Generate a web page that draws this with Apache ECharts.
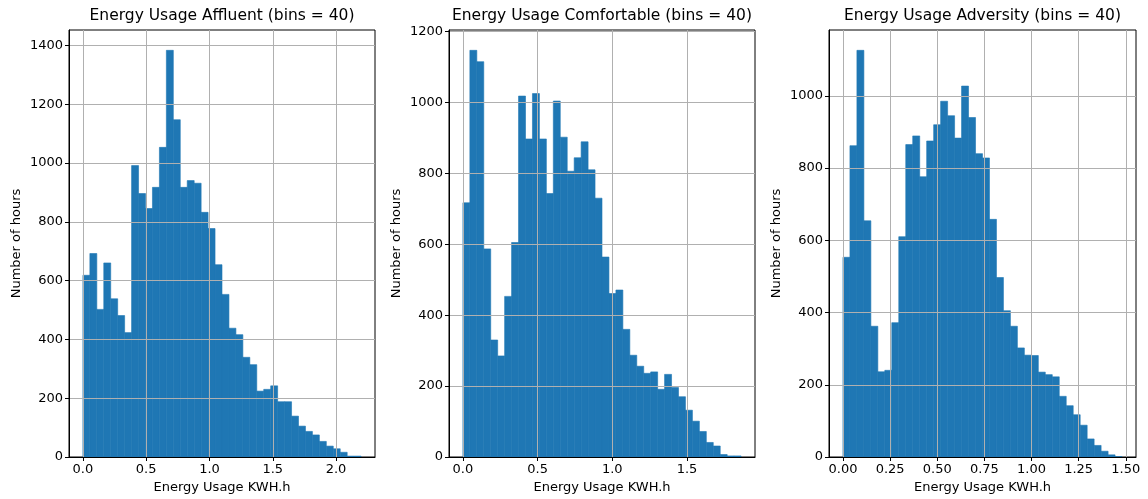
<!DOCTYPE html>
<html>
<head>
<meta charset="utf-8">
<script src="https://cdn.jsdelivr.net/npm/echarts@6/dist/echarts.min.js"></script>
<style>
html,body{margin:0;padding:0;background:#fff;}
#chart{width:1148px;height:499px;}
</style>
</head>
<body>
<div id="chart"></div>
<script>
// ---- data (counts per bin, 40 bins each) ----
const titles = ['Energy Usage Affluent (bins = 40)', 'Energy Usage Comfortable (bins = 40)', 'Energy Usage Adversity (bins = 40)'];
const xAxisLabel = 'Energy Usage KWH.h';
const yAxisLabel = 'Number of hours';

const affluentCounts = [618, 692, 502, 660, 538, 481, 423, 991, 896, 845, 917, 1053, 1383, 1147, 917, 940, 931, 832, 777, 654, 553, 438, 416, 339, 314, 224, 230, 242, 188, 188, 139, 105, 87, 75, 53, 37, 28, 16, 3, 3];
const comfortableCounts = [717, 1147, 1115, 587, 330, 285, 453, 605, 1018, 897, 1025, 897, 743, 1004, 902, 806, 844, 889, 810, 730, 564, 461, 471, 360, 287, 256, 236, 240, 191, 233, 196, 170, 132, 101, 72, 41, 31, 7, 3, 3];
const adversityCounts = [553, 862, 1126, 654, 362, 236, 240, 372, 610, 865, 889, 776, 875, 920, 985, 945, 883, 1027, 940, 840, 828, 658, 497, 405, 362, 302, 282, 281, 235, 228, 222, 168, 142, 117, 88, 50, 32, 16, 6, 1];

// data range (min, max) of each histogram
const affluentRange = [0, 2.198];
const comfortableRange = [0, 1.862];
const adversityRange = [0, 1.48];

// tick labels
const xTicksAffluent = [0, 0.5, 1.0, 1.5, 2.0];
const xTicksComfortable = [0, 0.5, 1.0, 1.5];
const xTicksAdversity = [0, 0.25, 0.5, 0.75, 1.0, 1.25, 1.5];
const yTicksAffluent = [0, 200, 400, 600, 800, 1000, 1200, 1400];
const yTicksComfortable = [0, 200, 400, 600, 800, 1000, 1200];
const yTicksAdversity = [0, 200, 400, 600, 800, 1000];

// ---- build chart ----
const FONT = 'DejaVu Sans';
const BAR = '#1f77b4';
const panels = [
  {counts: affluentCounts, range: affluentRange, xt: xTicksAffluent, yt: yTicksAffluent, dec: 1, left: 69, width: 306},
  {counts: comfortableCounts, range: comfortableRange, xt: xTicksComfortable, yt: yTicksComfortable, dec: 1, left: 449, width: 306},
  {counts: adversityCounts, range: adversityRange, xt: xTicksAdversity, yt: yTicksAdversity, dec: 2, left: 829, width: 307}
];
const TOP = 30, HEIGHT = 427;

const option = {
  animation: false,
  backgroundColor: '#fff',
  title: [], grid: [], xAxis: [], yAxis: [], series: []
};

panels.forEach((p, i) => {
  const n = p.counts.length;
  const w = (p.range[1] - p.range[0]) / n;
  const span = p.range[1] - p.range[0];
  const data = p.counts.map((c, k) => [p.range[0] + k * w, p.range[0] + (k + 1) * w, c]);
  const ymax = 1.05 * Math.max.apply(null, p.counts);

  option.title.push({
    text: titles[i],
    left: p.left + p.width / 2,
    top: 8,
    padding: 0,
    textAlign: 'center',
    textStyle: {fontFamily: FONT, fontSize: 15.5, fontWeight: 'normal', color: '#000'}
  });
  option.grid.push({
    left: p.left, top: TOP, width: p.width, height: HEIGHT,
    show: true, borderColor: '#000', borderWidth: 1, backgroundColor: 'transparent'
  });
  option.xAxis.push({
    type: 'value', gridIndex: i, z: 3,
    min: p.range[0] - 0.05 * span, max: p.range[1] + 0.05 * span,
    name: xAxisLabel, nameLocation: 'middle', nameGap: 23,
    nameTextStyle: {fontFamily: FONT, fontSize: 13, color: '#000'},
    axisLine: {show: true, onZero: false, lineStyle: {color: '#000', width: 1}},
    axisTick: {show: true, length: 4, inside: false, customValues: p.xt, lineStyle: {color: '#000'}},
    axisLabel: {show: true, customValues: p.xt, margin: 6, fontFamily: FONT, fontSize: 13, color: '#000',
      formatter: v => Number(v).toFixed(p.dec)},
    splitLine: {show: true, lineStyle: {color: '#b0b0b0', width: 1}}
  });
  option.yAxis.push({
    type: 'value', gridIndex: i, z: 3,
    min: 0, max: ymax,
    name: yAxisLabel, nameLocation: 'middle', nameGap: 46,
    nameTextStyle: {fontFamily: FONT, fontSize: 13, color: '#000'},
    axisLine: {show: true, onZero: false, lineStyle: {color: '#000', width: 1}},
    axisTick: {show: true, length: 4, inside: false, customValues: p.yt, lineStyle: {color: '#000'}},
    axisLabel: {show: true, customValues: p.yt, margin: 6, fontFamily: FONT, fontSize: 13, color: '#000',
      formatter: v => String(Math.round(v))},
    splitLine: {show: true, lineStyle: {color: '#b0b0b0', width: 1}}
  });
  option.series.push({
    type: 'custom', xAxisIndex: i, yAxisIndex: i, z: 2,
    data: data,
    encode: {x: [0, 1], y: 2},
    renderItem: function (params, api) {
      const a = api.coord([api.value(0), 0]);
      const b = api.coord([api.value(1), api.value(2)]);
      return {
        type: 'rect',
        shape: {x: a[0], y: b[1], width: b[0] - a[0], height: a[1] - b[1]},
        style: {fill: BAR, stroke: BAR, lineWidth: 0.6}
      };
    }
  });
});

const chart = echarts.init(document.getElementById('chart'), null, {renderer: 'canvas'});
chart.setOption(option);
</script>
</body>
</html>
